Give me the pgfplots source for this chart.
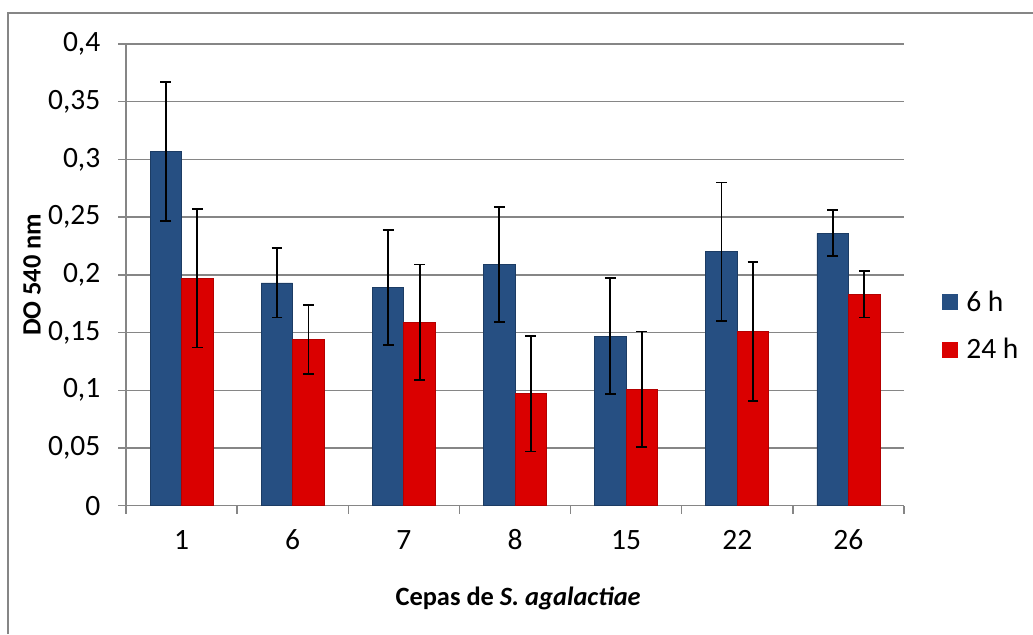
\documentclass[border=0pt]{standalone}
\usepackage{pgfplots}
\pgfplotsset{compat=1.18}
\usepackage{fontspec}
\setmainfont{Carlito}
\definecolor{gridgray}{RGB}{134,134,134}
\definecolor{bluemain}{RGB}{38,79,130}
\definecolor{blueedge}{RGB}{28,60,100}
\definecolor{redmain}{RGB}{218,0,0}
\definecolor{rededge}{RGB}{180,0,0}
\begin{document}
\begin{tikzpicture}
\useasboundingbox (0,0) rectangle (516.5pt,317pt);
\draw[gridgray, line width=1pt] (4.15pt,0) -- (4.15pt,310.75pt) -- (516.5pt,310.75pt);
\begin{axis}[
  at={(63pt,64.15pt)}, anchor=south west,
  scale only axis, width=389pt, height=230.85pt,
  ybar=0pt, bar width=15.75pt,
  xmin=-0.5, xmax=6.5, enlarge x limits=false,
  ymin=0, ymax=0.4,
  ytick={0,0.05,...,0.4},
  xtick={-0.5,0.5,...,6.5},
  x tick label as interval,
  xticklabels={1,6,7,8,15,22,26},
  axis x line*=bottom, axis y line*=left,
  axis line style={-, gridgray, line width=0.75pt},
  tick align=outside, major tick length=4pt,
  tick style={gridgray, line width=0.75pt},
  ymajorgrids, grid style={gridgray, line width=0.75pt},
  /pgf/number format/use comma,
  /pgf/number format/fixed,
  /pgf/number format/precision=2,
  /pgf/number format/assume math mode=true,
  tick label style={font=\fontsize{14.75}{17}\selectfont, black},
  yticklabel style={anchor=east, inner sep=0pt, xshift=-8.65pt},
  xticklabel style={anchor=center, inner sep=0pt, yshift=-13pt},
  every axis y label/.style={at={(axis description cs:-0.1208,0.5)}, rotate=90, anchor=center},
  every axis x label/.style={at={(axis description cs:0.504,-0.2)}, anchor=center},
  label style={font=\bfseries\fontsize{13.2}{16}\selectfont},
  ylabel={DO 540 nm},
  xlabel={Cepas de \textit{S. agalactiae}},
  legend style={at={(axis description cs:1.0488,0.389)}, anchor=west, draw=none, fill=none,
    inner sep=0pt, font=\fontsize{14.75}{17}\selectfont, row sep=8pt,
    /tikz/every odd column/.append style={column sep=2pt}},
  legend cell align=left,
  legend image code/.code={\fill[#1, draw=none] (0pt,-4pt) rectangle (8pt,4pt);},
  /pgfplots/error bars/error bar style={line width=0.9pt, black},
  /pgfplots/error bars/error mark options={rotate=90, draw=black, mark size=2.7pt, line width=0.9pt},
]
\addplot[fill=bluemain, draw=blueedge, line width=0.4pt,
  error bars/.cd, y dir=both, y explicit]
  coordinates {
  (0,0.307) +- (0,0.060)
  (1,0.193) +- (0,0.030)
  (2,0.189) +- (0,0.050)
  (3,0.209) +- (0,0.050)
  (4,0.147) +- (0,0.050)
  (5,0.220) +- (0,0.060)
  (6,0.236) +- (0,0.020)
  };
\addlegendentry{6 h}
\addplot[fill=redmain, draw=rededge, line width=0.4pt,
  error bars/.cd, y dir=both, y explicit]
  coordinates {
  (0,0.197) +- (0,0.060)
  (1,0.144) +- (0,0.030)
  (2,0.159) +- (0,0.050)
  (3,0.097) +- (0,0.050)
  (4,0.101) +- (0,0.050)
  (5,0.151) +- (0,0.060)
  (6,0.183) +- (0,0.020)
  };
\addlegendentry{24 h}
\end{axis}
\end{tikzpicture}
\end{document}
